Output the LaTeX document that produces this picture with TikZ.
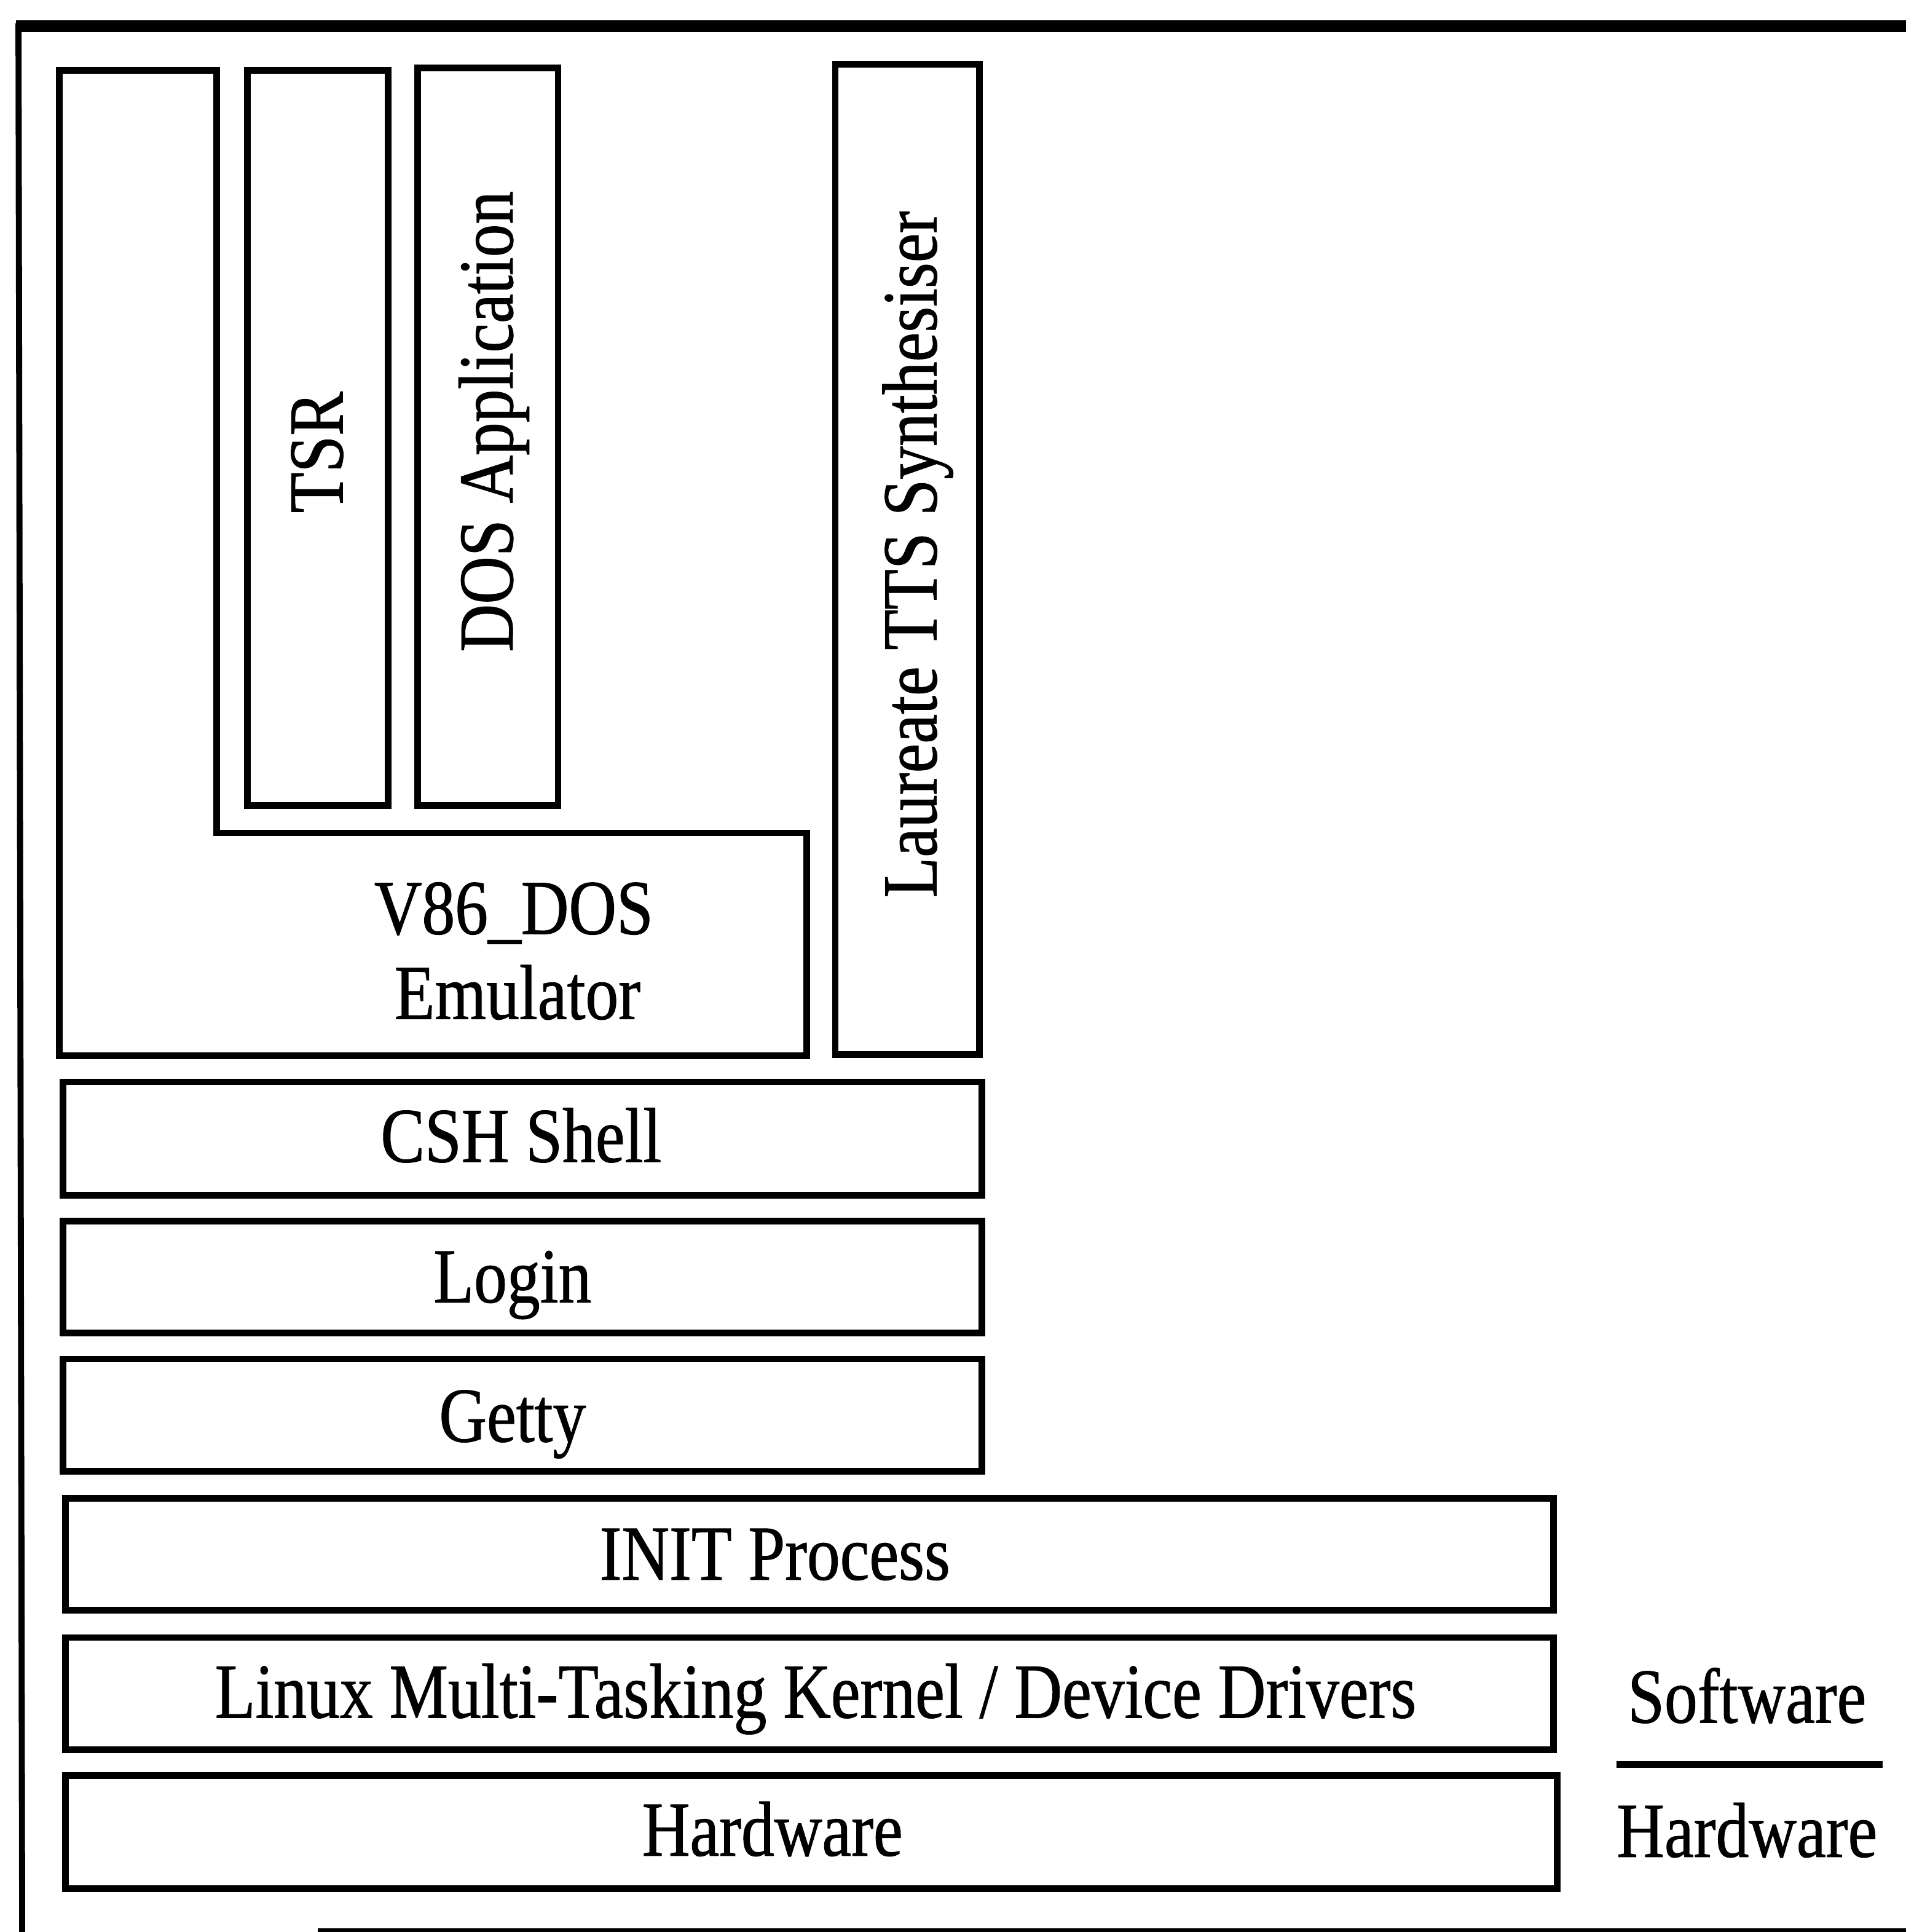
\documentclass[tikz,border=0pt]{standalone}
\usepackage{fontspec}
\setmainfont{Liberation Serif}[FakeStretch=0.85,FakeBold=0.8]
\begin{document}
\begin{tikzpicture}[x=0.020045cm,y=-0.020045cm,
  boxline/.style={line width=3.1pt,line join=miter},
  lbl/.style={anchor=base,inner sep=0pt,font=\fontsize{36}{40}\selectfont},
  vlbl/.style={lbl,rotate=90}]
\useasboundingbox (0,0) rectangle (1547,1568);
% outer frame
\draw[line width=5.4pt] (13,21) -- (1547,21);
\draw[line width=2.8pt] (15,19) -- (18,1568);
\draw[line width=3.6pt] (258,1568) -- (1547,1568);
% V86 L-shaped box
\draw[boxline] (48,57) -- (176,57) -- (176,676) -- (655,676) -- (655,857) -- (48,857) -- cycle;
\node[lbl] (v86) at (417,758) {V86\_DOS};
\node[lbl] (emu) at (420,827) {Emulator};
% TSR
\draw[boxline] (201,57) rectangle (315,654);
\node[vlbl] (tsr) at (278,367) {TSR};
% DOS Application
\draw[boxline] (339,55) rectangle (453,654);
\node[vlbl] (dosapp) at (416,342) {DOS Application};
% Laureate
\draw[boxline] (678,52) rectangle (795,856);
\node[vlbl] (tts) at (760,450) {Laureate TTS Synthesiser};
% stacked boxes
\draw[boxline] (51,878) rectangle (797,970);
\node[lbl] (csh) at (423,943) {CSH Shell};
\draw[boxline] (51,991) rectangle (797,1082);
\node[lbl] (login) at (416,1057) {Login};
\draw[boxline] (51,1103) rectangle (797,1194);
\node[lbl] (getty) at (416,1170) {Getty};
\draw[boxline] (53,1216) rectangle (1261,1307);
\node[lbl] (init) at (629,1282) {INIT Process};
\draw[boxline] (53,1329) rectangle (1261,1420);
\node[lbl] (kernel) at (662,1394) {Linux Multi-Tasking Kernel / Device Drivers};
\draw[boxline] (53,1441) rectangle (1264,1533);
\node[lbl] (hw) at (627,1506) {Hardware};
% legend
\node[lbl] (sw) at (1418,1398) {Software};
\node[lbl] (hwl) at (1418,1507) {Hardware};
\coordinate (sepl) at (1312,1432);
\coordinate (sepr) at (1528,1432);
\draw[line width=3.2pt] (sepl) -- (sepr);
\end{tikzpicture}
\end{document}
